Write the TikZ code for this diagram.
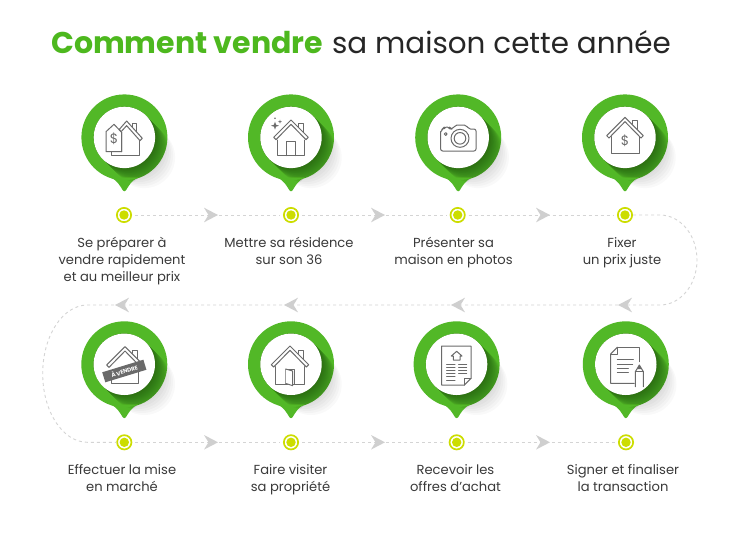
\documentclass[tikz,border=0pt]{standalone}
\usepackage{fontspec}
\setmainfont{Poppins}
\usetikzlibrary{calc}
\definecolor{gr}{HTML}{52B827}
\definecolor{titlegr}{HTML}{4DB81E}
\definecolor{yg}{HTML}{CCDD00}
\definecolor{ink}{HTML}{6A6A6A}
\definecolor{txt}{HTML}{3A3A3A}
\definecolor{dashc}{HTML}{D4D4D4}
\definecolor{headc}{HTML}{CFCFCF}
\tikzset{
  ic/.style={draw=ink,line width=1pt,line join=round,line cap=round},
  whitec/.style={circle,fill=white,minimum size=61.4pt,inner sep=0pt},
  dotn/.style={circle,draw=yg,line width=1.7pt,fill=white,minimum size=14.3pt,inner sep=0pt},
  lab/.style={align=center,text=txt,font=\fontsize{13.1}{17}\selectfont,inner sep=0pt,anchor=north},
  flow/.style={draw=dashc,line width=.9pt,dash pattern=on 3pt off 3pt},
  zoomed/.style={x=.33333pt,y=-.33333pt},
}
\newcommand{\pin}[3]{%
  \begin{scope}[shift={(#1,#2)}]
    \foreach \s in {2,4,...,20}{\draw[black,opacity=.022,line width=61.4pt,line cap=round] (0,0) -- (\s,\s);}
    \path[fill=gr] (0,0) circle (43);
    \path[fill=gr] (-14,40) .. controls (-7,43) and (-4,49) .. (-1.5,53) .. controls (-.7,54.2) and (.7,54.2) .. (1.5,53) .. controls (4,49) and (7,43) .. (14,40) -- cycle;
    \begin{scope}
      \clip (0,0) circle (43) (-14,40) -- (0,54) -- (14,40) -- cycle;
      \foreach \s in {.7,1.4,...,15}{\draw[black,opacity=.02,line width=61.4pt,line cap=round] (0,0) -- (\s,\s);}
    \end{scope}
    \node[whitec] (#3) at (0,0) {};
  \end{scope}}
\newcommand{\roof}[1]{%
  \draw[ic,fill=white] (-#1,#1) -- (0,0) -- (#1,#1) -- ({#1-7},{#1+7}) -- (0,13) -- ({-#1+7},{#1+7}) -- cycle;}
\newcommand{\ahead}[2]{% position, direction
  \fill[headc,shift={(#1)},xscale=#2] (7,0) -- (-7,-7.3) -- (-2.5,0) -- (-7,7.3) -- cycle;}
\begin{document}
\begin{tikzpicture}[x=1pt,y=-1pt]
\useasboundingbox (0,0) rectangle (750,550);
\fill[white] (0,0) rectangle (750,550);
% title
\node[anchor=base west,inner sep=0pt] (title) at (51,53) {\textcolor{titlegr}{\fontsize{30}{36}\selectfont\textbf{Comment vendre}}\hspace{9pt}\textcolor{black!85}{\fontsize{29.4}{36}\selectfont sa maison cette année}};
% pins
\pin{124.4}{137.4}{p1}
\pin{291}{137.4}{p2}
\pin{458.2}{137.4}{p3}
\pin{625}{137.4}{p4}
\pin{124.3}{364.3}{p5}
\pin{291}{364.3}{p6}
\pin{456.6}{364.3}{p7}
\pin{625.8}{364.3}{p8}
% dots
\node[dotn] (d1) at (124,215) {};
\node[dotn] (d2) at (291,215) {};
\node[dotn] (d3) at (457.7,215) {};
\node[dotn] (d4) at (625,215) {};
\node[dotn] (d5) at (124.3,442.3) {};
\node[dotn] (d6) at (291,442.3) {};
\node[dotn] (d7) at (456.7,442.3) {};
\node[dotn] (d8) at (626,442.3) {};
\foreach \d in {d1,d2,d3,d4,d5,d6,d7,d8}{\fill[yg] (\d) circle (4.7);}
% connectors
\coordinate (rs) at (660,215);
\coordinate (re) at (660,305);
\coordinate (ls) at (87.5,305);
\coordinate (le) at (87.5,442.3);
\draw[flow,shorten <=3pt,shorten >=3pt] (d1) -- (d2);
\draw[flow,shorten <=3pt,shorten >=3pt] (d2) -- (d3);
\draw[flow,shorten <=3pt,shorten >=3pt] (d3) -- (d4);
\draw[flow,shorten <=3pt,shorten >=3pt] (d5) -- (d6);
\draw[flow,shorten <=3pt,shorten >=3pt] (d6) -- (d7);
\draw[flow,shorten <=3pt,shorten >=3pt] (d7) -- (d8);
\draw[flow] (d4.east) -- (rs) arc[start angle=-90,end angle=90,x radius=37,y radius=45] -- (ls) arc[start angle=-90,end angle=-270,x radius=44.8,y radius=68.65] -- (d5.west);
\coordinate (a1) at (211,215);
\coordinate (a2) at (378,215);
\coordinate (a3) at (543,215);
\coordinate (a4) at (625,305);
\coordinate (a5) at (458,305);
\coordinate (a6) at (291,305);
\coordinate (a7) at (122,305);
\coordinate (a8) at (211,442.3);
\coordinate (a9) at (378,442.3);
\coordinate (a10) at (543,442.3);
\foreach \a in {a1,a2,a3,a8,a9,a10}{\ahead{\a}{1}}
\foreach \a in {a4,a5,a6,a7}{\ahead{\a}{-1}}
% labels
\node[lab] (l1) at (122,237.5) {Se préparer à\\vendre rapidement\\et au meilleur prix};
\node[lab] (l2) at (289,237.5) {Mettre sa résidence\\sur son 36};
\node[lab] (l3) at (453.5,237.5) {Présenter sa\\maison en photos};
\node[lab] (l4) at (622,237.5) {Fixer\\un prix juste};
\node[lab] (l5) at (122,464.5) {Effectuer la mise\\en marché};
\node[lab] (l6) at (290.5,464.5) {Faire visiter\\sa propriété};
\node[lab] (l7) at (455.5,464.5) {Recevoir les\\offres d’achat};
\node[lab] (l8) at (623,464.5) {Signer et finaliser\\la transaction};
% icon 1
\begin{scope}[shift={(60,85)},zoomed]
  \draw[ic] (162,118) -- (138,140) -- (138,200) -- (185,200) -- (185,142) -- (162,118);
  \draw[ic] (155,200) -- (155,212) -- (237,212) -- (237,163);
  \draw[ic,fill=white] (185,200) -- (185,142) -- (178,133) -- (200,108) -- (247,160) -- (240,167) -- (200,122) -- (186,137);
  \draw[ic] (218,125) -- (218,115) -- (230,115) -- (230,140);
  \node[text=ink,inner sep=0pt,font=\fontsize{13.5}{13}\selectfont] (i1) at (162,160) {\$};
\end{scope}
% icon 2
\begin{scope}[shift={(60,85)},zoomed]
  \draw[ic] (652,165) -- (652,212) -- (735,212) -- (735,165);
  \draw[ic] (680,212) -- (680,168) -- (708,168) -- (708,212);
  \draw[ic] (715,125) -- (715,115) -- (730,115) -- (730,142);
  \begin{scope}[shift={(693,105)}]\roof{52}\end{scope}
  \fill[ink] (645,110) -- (648,119) -- (657,122) -- (648,125) -- (645,134) -- (642,125) -- (633,122) -- (642,119) -- cycle;
  \fill[ink] (660,104) -- (661.5,108.5) -- (666,110) -- (661.5,111.5) -- (660,116) -- (658.5,111.5) -- (654,110) -- (658.5,108.5) -- cycle;
  \fill[ink] (645,100) circle (.9pt);
\end{scope}
% icon 3
\begin{scope}[shift={(400,85)},zoomed]
  \draw[ic,rounded corners=2pt] (122,145) -- (122,198) -- (228,198) -- (228,132) -- (205,132) -- (199,120) -- (165,120) -- (159,132) -- (150,132) -- (148,126) -- (133,126) -- (131,132) -- (122,135) -- cycle;
  \draw[ic] (180,160) circle (9pt);
  \draw[ic] (180,160) circle (5.8pt);
  \draw[ic] (137,147) circle (1.4pt);
\end{scope}
% icon 4
\begin{scope}[shift={(400,85)},zoomed]
  \draw[ic] (633,155) -- (633,205) -- (717,205) -- (717,155);
  \draw[ic] (697,118) -- (697,107) -- (712,107) -- (712,135);
  \begin{scope}[shift={(675,97)}]\roof{55}\end{scope}
  \node[text=ink,inner sep=0pt,font=\fontsize{13.5}{13}\selectfont] (i4) at (675,167) {\$};
\end{scope}
% icon 5
\begin{scope}[shift={(30,295)},zoomed]
  \draw[ic] (245,230) -- (245,265) -- (326,265) -- (326,215);
  \draw[ic] (308,175) -- (308,165) -- (322,165) -- (322,192);
  \begin{scope}[shift={(285,155)}]\roof{55}\end{scope}
  \node[rotate=17,fill=ink,minimum width=43pt,minimum height=10.5pt,inner sep=0pt,text=white,font=\fontsize{5.6}{5}\selectfont\bfseries] (i5) at (283,228) {À VENDRE};
\end{scope}
% icon 6
\begin{scope}[shift={(30,295)},zoomed]
  \draw[ic] (738,215) -- (738,267) -- (825,267) -- (825,215);
  \draw[ic] (805,175) -- (805,165) -- (820,165) -- (820,192);
  \begin{scope}[shift={(780,153)}]\roof{56}\end{scope}
  \draw[ic] (767,267) -- (767,222) -- (795,222) -- (795,267);
  \draw[ic,fill=white] (767,222) -- (788,228) -- (788,272) -- (770,266) -- (767,267);
\end{scope}
% icon 7
\begin{scope}[shift={(400,310)},zoomed]
  \draw[ic] (125,108) -- (213,108) -- (213,205) -- (193,225) -- (125,225) -- cycle;
  \draw[ic] (193,225) -- (193,205) -- (213,205);
  \draw[ic] (160,150) -- (180,150) -- (180,138) -- (186,138) -- (170,124) -- (154,138) -- (160,138) -- cycle;
  \foreach \yy in {163,172,181,190}{\draw[ic] (140,\yy) -- (165,\yy); \draw[ic] (176,\yy) -- (200,\yy);}
  \draw[ic] (140,200) -- (165,200);
  \draw[ic] (140,211) -- (165,211);
\end{scope}
% icon 8
\begin{scope}[shift={(400,310)},zoomed]
  \draw[ic] (652,112) -- (718,112) -- (718,155);
  \draw[ic] (652,112) -- (632,132) -- (632,220) -- (703,220);
  \draw[ic] (652,112) -- (652,132) -- (632,132);
  \foreach \yy/\xe in {148/700,162/698,175/685,188/685}{\draw[ic] (652,\yy) -- (\xe,\yy);}
  \draw[ic,fill=white] (706,230) -- (706,185) -- (718,165) -- (730,185) -- (730,230);
  \draw[ic] (706,185) -- (730,185);
  \fill[ink] (718,165) -- (711,177) -- (725,177) -- cycle;
\end{scope}
\end{tikzpicture}
\end{document}
